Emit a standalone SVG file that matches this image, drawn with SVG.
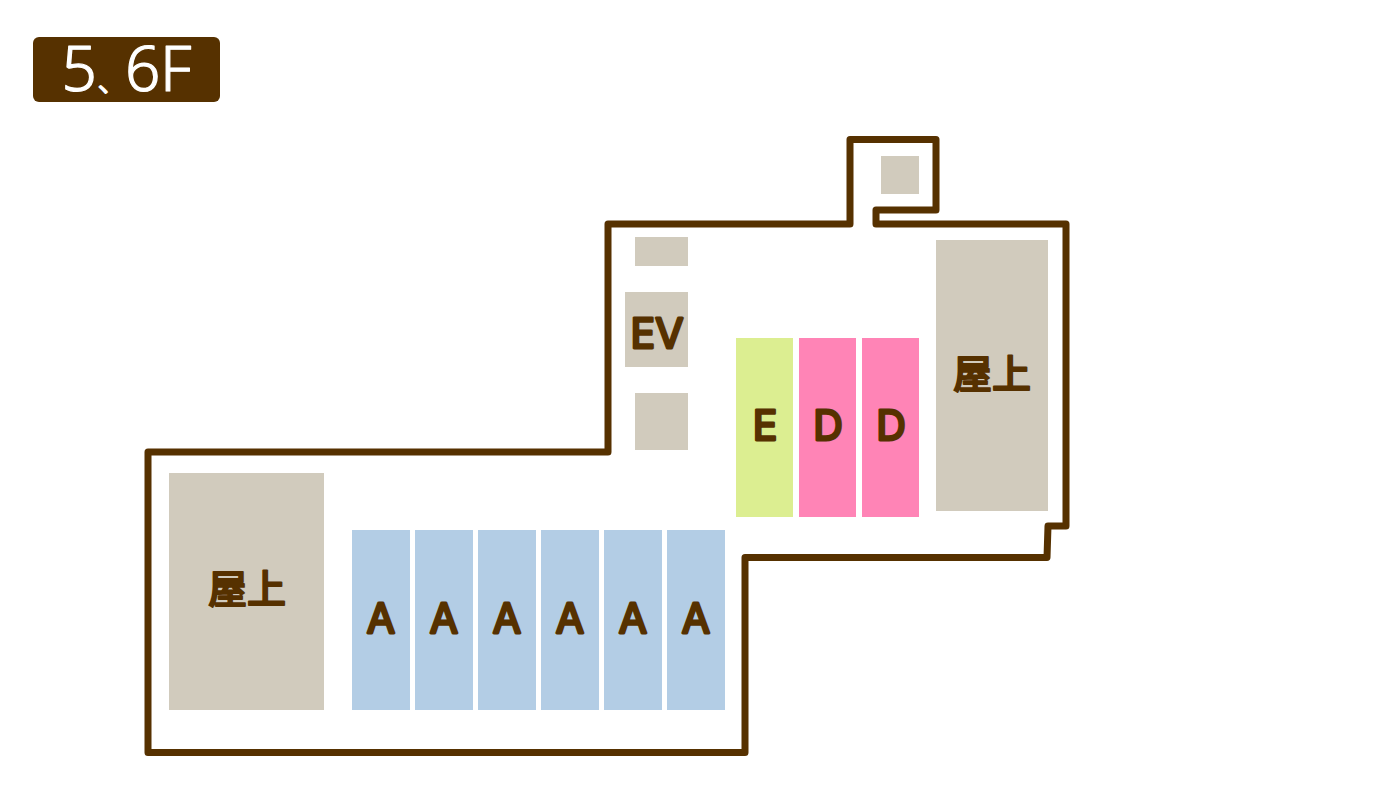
<svg xmlns="http://www.w3.org/2000/svg" width="1400" height="800" viewBox="0 0 1400 800">
<style>
.roof{fill:#d1cbbd}
.a{fill:#b3cde5}
.d{fill:#ff84b6}
.e{fill:#dcee91}
.t{font-family:Inter,"Noto Sans",sans-serif;font-weight:400;font-size:41px;fill:#563100;stroke:#563100;stroke-width:2.8;stroke-linejoin:round;text-anchor:middle}
.c{font-family:"Noto Sans CJK JP",sans-serif;font-weight:500;font-size:39px;fill:#563100;stroke:#563100;stroke-width:1.8;stroke-linejoin:round;stroke-linecap:round;text-anchor:middle}
.wall{fill:none;stroke:#563100;stroke-width:7;stroke-linejoin:round;stroke-linecap:round}
.w{font-family:"Noto Sans","Noto Sans CJK JP",sans-serif;font-weight:300;font-size:62px;fill:#fff;stroke:#fff;stroke-width:1.2;stroke-linejoin:round}
.p{font-family:"Noto Sans CJK JP",sans-serif;font-size:27px;stroke-width:2}
</style>
<rect width="1400" height="800" fill="#fff"/>
<g id="floor-label"><rect x="33" y="37" width="187" height="65" rx="6" fill="#563100"/>
<text class="w" y="91"><tspan x="61.500">5</tspan><tspan class="p" x="98" y="92">、</tspan><tspan x="125" y="91">6</tspan><tspan x="160">F</tspan></text></g>
<g id="walls"><path class="wall" d="M850 224V139.500H936V210H876V224H1066V526H1048L1047 557.500H745V752.500H148V452H608V224H850"/></g>
<g id="roof-top"><rect class="roof" x="881" y="156" width="38" height="38"/></g>
<g id="shaft-1"><rect class="roof" x="635" y="237" width="53" height="29"/></g>
<g id="ev"><rect class="roof" x="625" y="292" width="63" height="75"/><text class="t" x="657" y="348">EV</text></g>
<g id="shaft-2"><rect class="roof" x="635" y="393" width="53" height="57"/></g>
<g id="roof-right"><rect class="roof" x="936" y="240" width="112" height="271"/><text class="c" x="992" y="388">屋上</text></g>
<g id="roof-left"><rect class="roof" x="169" y="473" width="155" height="237"/><text class="c" x="247" y="603">屋上</text></g>
<g id="e"><rect class="e" x="736" y="338" width="57" height="179"/><text class="t" x="765" y="440">E</text></g>
<g id="d1"><rect class="d" x="799" y="338" width="57" height="179"/><text class="t" x="828" y="440">D</text></g>
<g id="d2"><rect class="d" x="862" y="338" width="57" height="179"/><text class="t" x="891" y="440">D</text></g>
<g id="a1"><rect class="a" x="352" y="530" width="58" height="180"/><text class="t" x="381" y="633">A</text></g>
<g id="a2"><rect class="a" x="415" y="530" width="58" height="180"/><text class="t" x="444" y="633">A</text></g>
<g id="a3"><rect class="a" x="478" y="530" width="58" height="180"/><text class="t" x="507" y="633">A</text></g>
<g id="a4"><rect class="a" x="541" y="530" width="58" height="180"/><text class="t" x="570" y="633">A</text></g>
<g id="a5"><rect class="a" x="604" y="530" width="58" height="180"/><text class="t" x="633" y="633">A</text></g>
<g id="a6"><rect class="a" x="667" y="530" width="58" height="180"/><text class="t" x="696" y="633">A</text></g>
</svg>
